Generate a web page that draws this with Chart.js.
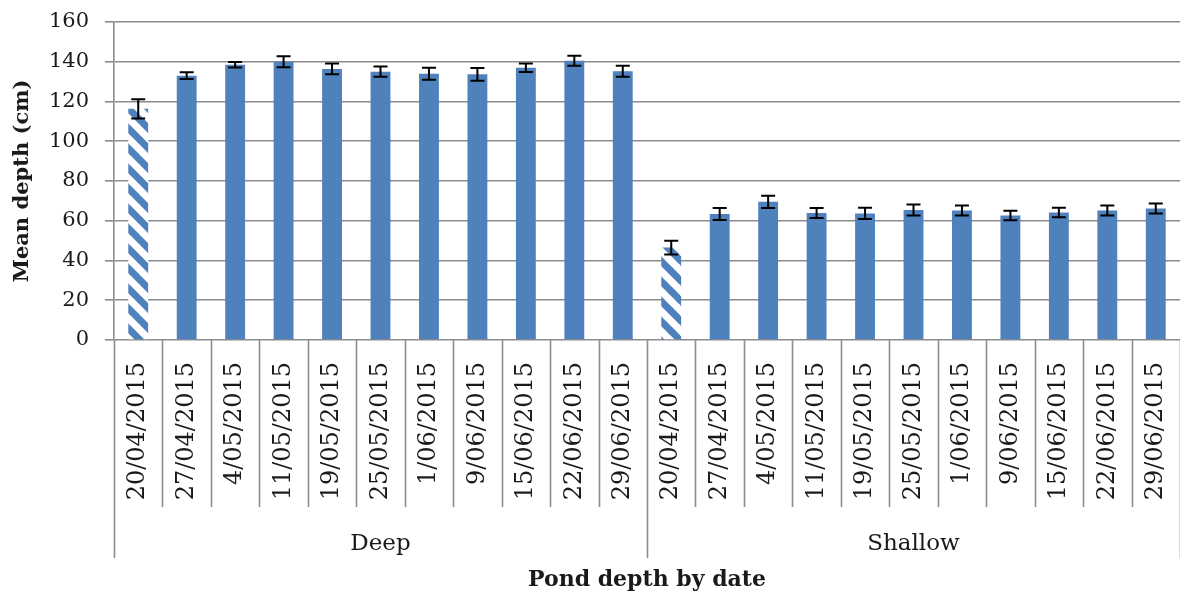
<!DOCTYPE html>
<html>
<head>
<meta charset="utf-8">
<script src="https://cdn.jsdelivr.net/npm/chart.js@4.4.1/dist/chart.umd.min.js"></script>
<style>
  html, body { margin: 0; padding: 0; background: #ffffff; }
  #wrap { width: 1180px; height: 594px; position: relative; }
</style>
</head>
<body>
<div id="wrap"><canvas id="c" width="1180" height="594"></canvas></div>
<script>
// ---- data ----
const groups = ['Deep', 'Shallow'];
const deepDates = ['20/04/2015', '27/04/2015', '4/05/2015', '11/05/2015', '19/05/2015', '25/05/2015', '1/06/2015', '9/06/2015', '15/06/2015', '22/06/2015', '29/06/2015'];
const shallowDates = ['20/04/2015', '27/04/2015', '4/05/2015', '11/05/2015', '19/05/2015', '25/05/2015', '1/06/2015', '9/06/2015', '15/06/2015', '22/06/2015', '29/06/2015'];
const deepMean = [116.3, 133, 138.5, 140, 136.4, 135, 134, 133.7, 137, 140.5, 135.2];
const deepErr = [4.8, 1.7, 1.4, 2.8, 2.7, 2.6, 3.0, 3.2, 2.1, 2.5, 2.8];
const shallowMean = [46.5, 63.4, 69.5, 63.9, 63.7, 65.4, 65.2, 62.6, 64.2, 65.2, 66.2];
const shallowErr = [3.5, 3.0, 3.1, 2.5, 2.8, 2.8, 2.5, 2.4, 2.4, 2.5, 2.5];
const baselineIndex = 0; // first survey in each group is drawn hatched
const yTicks = [0, 20, 40, 60, 80, 100, 120, 140, 160];

// ---- derived ----
const categories = deepDates.concat(shallowDates);
const means = deepMean.concat(shallowMean);
const errs = deepErr.concat(shallowErr);
const groupSizes = [deepDates.length, shallowDates.length];

const BLUE = '#4F81BD';
const GRID = '#8c8c8c';
const TEXT = '#1a1a1a';

function makeHatch() {
  const s = 20;
  const c = document.createElement('canvas');
  c.width = s; c.height = s;
  const g = c.getContext('2d');
  g.fillStyle = '#ffffff';
  g.fillRect(0, 0, s, s);
  g.strokeStyle = BLUE;
  g.lineWidth = 7;
  for (let k = -1; k <= 1; k++) {
    g.beginPath();
    g.moveTo(-2, k * s - 2);
    g.lineTo(s + 2, s + k * s + 2);
    g.stroke();
  }
  return g.createPattern(c, 'repeat');
}
const hatch = makeHatch();

const colors = [];
groupSizes.forEach(n => {
  for (let i = 0; i < n; i++) colors.push(i === baselineIndex ? hatch : BLUE);
});

const errorBars = {
  id: 'errorBars',
  afterDatasetsDraw(chart) {
    const ctx = chart.ctx;
    const y = chart.scales.y;
    const meta = chart.getDatasetMeta(0);
    ctx.save();
    ctx.strokeStyle = '#000';
    ctx.lineWidth = 2;
    meta.data.forEach((bar, i) => {
      const x = bar.x;
      const yt = y.getPixelForValue(means[i] + errs[i]);
      const yb = y.getPixelForValue(means[i] - errs[i]);
      const cap = 7;
      ctx.beginPath();
      ctx.moveTo(x, yt); ctx.lineTo(x, yb);
      ctx.moveTo(x - cap, yt); ctx.lineTo(x + cap, yt);
      ctx.moveTo(x - cap, yb); ctx.lineTo(x + cap, yb);
      ctx.stroke();
    });
    ctx.restore();
  }
};

const groupAxis = {
  id: 'groupAxis',
  afterDraw(chart) {
    const ctx = chart.ctx;
    const xs = chart.scales.x;
    const area = chart.chartArea;
    const n = categories.length;
    const w = (area.right - area.left) / n;
    const y0 = area.bottom;
    ctx.save();
    ctx.strokeStyle = GRID;
    ctx.lineWidth = 1.6;
    const outer = new Set([0]);
    let acc = 0;
    groupSizes.forEach(s => { acc += s; outer.add(acc); });
    for (let i = 0; i <= n; i++) {
      const x = Math.round(area.left + i * w) + 0.5;
      const yEnd = outer.has(i) ? 558 : 507;
      ctx.beginPath();
      ctx.moveTo(x, y0);
      ctx.lineTo(x, yEnd);
      ctx.stroke();
    }
    ctx.fillStyle = TEXT;
    ctx.font = '23px "DejaVu Serif"';
    ctx.textAlign = 'center';
    ctx.textBaseline = 'middle';
    let start = 0;
    groups.forEach((g, gi) => {
      const end = start + groupSizes[gi];
      const cx = (xs.getPixelForValue(start) + xs.getPixelForValue(end - 1)) / 2;
      ctx.fillText(g, cx, 544);
      start = end;
    });
    ctx.restore();
  }
};

new Chart(document.getElementById('c'), {
  type: 'bar',
  data: {
    labels: categories,
    datasets: [{
      data: means,
      backgroundColor: colors,
      borderWidth: 0,
      barPercentage: 0.41,
      categoryPercentage: 1.0
    }]
  },
  options: {
    responsive: false,
    animation: false,
    devicePixelRatio: 1,
    layout: { padding: { top: 22, right: -6, left: 0, bottom: 0 } },
    plugins: { legend: { display: false }, tooltip: { enabled: false } },
    scales: {
      x: {
        grid: { display: false, drawTicks: false },
        border: { display: false },
        ticks: {
          autoSkip: false,
          minRotation: 90,
          maxRotation: 90,
          padding: 22,
          color: TEXT,
          font: { family: 'DejaVu Serif', size: 24 }
        },
        title: {
          display: true,
          text: 'Pond depth by date',
          color: TEXT,
          font: { family: 'DejaVu Serif', size: 22, weight: 'bold' },
          padding: { top: 0, bottom: 1 }
        },
        afterFit(s) { s.height = 254; s.paddingLeft = 0; s.paddingRight = 0; }
      },
      y: {
        min: 0,
        max: 160,
        afterBuildTicks(s) { s.ticks = yTicks.map(v => ({ value: v })); },
        grid: { color: GRID, lineWidth: 1.6, tickLength: 9, tickColor: GRID },
        border: { display: true, color: GRID, width: 1.6 },
        ticks: {
          padding: 16,
          color: TEXT,
          font: { family: 'DejaVu Serif', size: 21 }
        },
        title: {
          display: true,
          text: 'Mean depth (cm)',
          color: TEXT,
          font: { family: 'DejaVu Serif', size: 21, weight: 'bold' },
          padding: { top: 10, bottom: 0 }
        },
        afterFit(s) { s.width = 114; s.paddingTop = 0; s.paddingBottom = 0; }
      }
    }
  },
  plugins: [errorBars, groupAxis]
});
</script>
</body>
</html>
